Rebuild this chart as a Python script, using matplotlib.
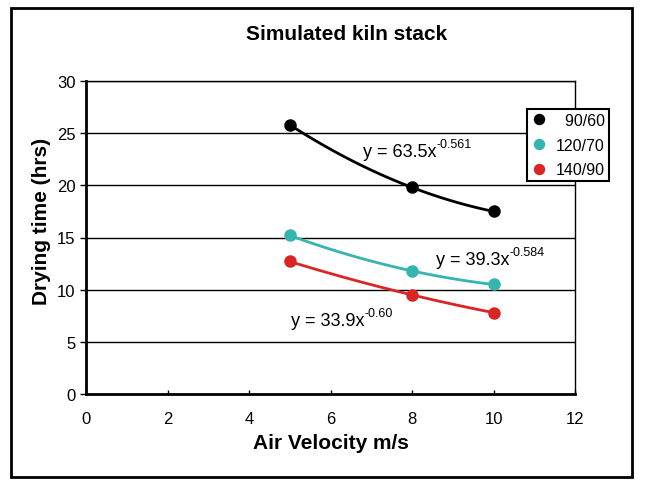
import matplotlib
matplotlib.use("Agg")
import matplotlib.pyplot as plt
import numpy as np
from matplotlib.patches import Rectangle

plt.rcParams.update({
    "font.family": ["Liberation Sans", "DejaVu Sans"],
})

# data
velocity = [5, 8, 10]
series_names = ["  90/60", "120/70", "140/90"]
drying_9060 = [25.8, 19.8, 17.5]
drying_12070 = [15.2, 11.8, 10.5]
drying_14090 = [12.7, 9.5, 7.8]
colors = ["#000000", "#35B5B0", "#D92525"]
eq_base = ["y = 63.5x", "y = 39.3x", "y = 33.9x"]
eq_power = ["-0.561", "-0.584", "-0.60"]
eq_pos = [(6.79, 23.2), (8.58, 12.85), (5.04, 7.0)]
x_ticks = [0, 2, 4, 6, 8, 10, 12]
y_ticks = [0, 5, 10, 15, 20, 25, 30]

fig = plt.figure(figsize=(6.45, 4.81), dpi=100)
ax = fig.add_axes([86 / 645, 1 - 395 / 481, 489 / 645, 313 / 481])

# outer frame round the whole chart
fig.patches.append(Rectangle((11 / 645, 3 / 481), 621 / 645, 469 / 481,
                             transform=fig.transFigure, fill=False,
                             edgecolor="black", linewidth=2))

for ys in y_ticks[1:]:
    ax.axhline(ys, color="black", linewidth=1, zorder=1)

for name, ys, c in zip(series_names, [drying_9060, drying_12070, drying_14090], colors):
    # smooth line through the three points
    coef = np.polyfit(velocity, ys, 2)
    xs = np.linspace(velocity[0], velocity[-1], 100)
    ax.plot(xs, np.polyval(coef, xs), color=c, linewidth=2, zorder=2)
    ax.plot(velocity, ys, "o", color=c, markersize=8, label=name, zorder=3)

# trendline equations, exponent as a raised smaller text
for base, power, (ex, ey) in zip(eq_base, eq_power, eq_pos):
    t = ax.text(ex, ey, base, fontsize=13, va="center", ha="left")
    ax.annotate(power, xy=(1.0, 0.95), xycoords=t, fontsize=9,
                ha="left", va="center")

ax.set_xlim(0, 12)
ax.set_ylim(0, 30)
ax.set_xticks(x_ticks)
ax.set_yticks(y_ticks)
ax.tick_params(axis="y", direction="out", length=4, labelsize=12, width=1)
ax.tick_params(axis="x", direction="in", length=3, labelsize=12, width=1, pad=12)
for s in ["left", "bottom"]:
    ax.spines[s].set_linewidth(2)
for s in ["top", "right"]:
    ax.spines[s].set_linewidth(1)

ax.set_xlabel("Air Velocity m/s", fontsize=15, fontweight="bold", labelpad=5)
ax.set_ylabel("Drying time (hrs)", fontsize=15, fontweight="bold")
ax.yaxis.set_label_coords(-35 / 489, 0.555)
fig.text(347 / 645, 1 - 35 / 481, "Simulated kiln stack", fontsize=15,
         fontweight="bold", ha="center", va="center")

leg = ax.legend(loc="upper left", bbox_to_anchor=(441 / 489, 1 - 28 / 313),
                fontsize=11.5, frameon=True, fancybox=False, edgecolor="black",
                handletextpad=0.55, borderpad=0.25, labelspacing=0.6,
                handlelength=1.0, borderaxespad=0, markerscale=0.9)
leg.get_frame().set_linewidth(1.5)
leg.get_frame().set_alpha(1)

fig.savefig("out.png", dpi=100)
